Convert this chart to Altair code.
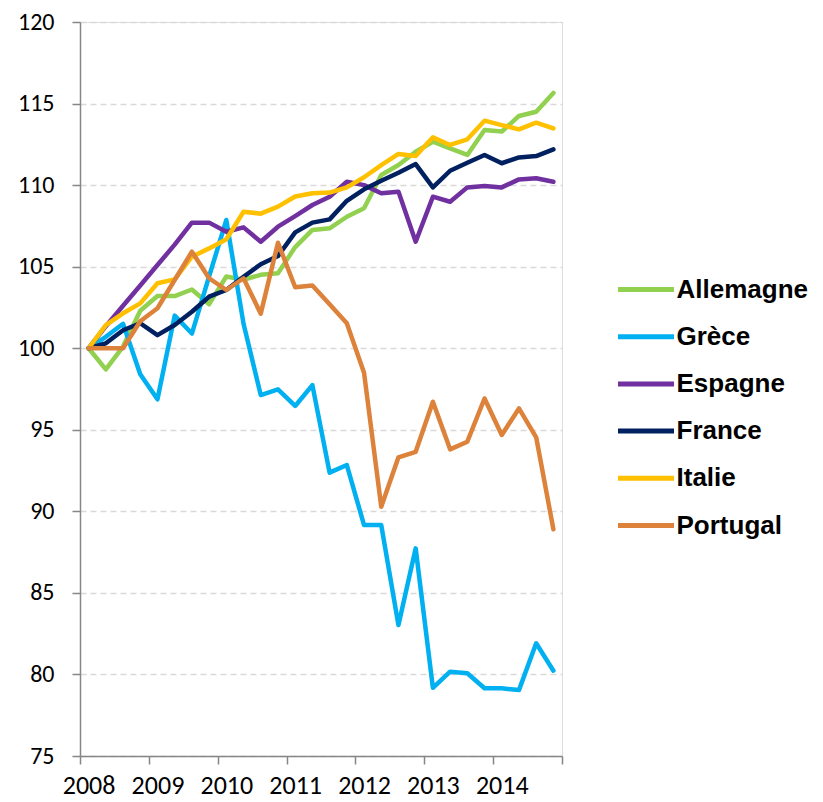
import altair as alt
import pandas as pd

years = ["2008", "2009", "2010", "2011", "2012", "2013", "2014"]
quarters = [f"{y}-T{q}" for y in years for q in range(1, 5)]

countries = ["Allemagne", "Grèce", "Espagne", "France", "Italie", "Portugal"]
colors = ["#92D050", "#00B0F0", "#7030A0", "#002060", "#FFC000", "#DC823A"]

allemagne = [100, 98.7, 100.1, 102.3, 103.2, 103.2, 103.6, 102.7, 104.4, 104.2, 104.5, 104.6,
             106.2, 107.25, 107.35, 108.06, 108.58, 110.62, 111.23, 112.05, 112.66, 112.25,
             111.85, 113.38, 113.28, 114.24, 114.5, 115.65]
grece = [100, 100.7, 101.5, 98.4, 96.87, 102.0, 100.9, 104.4, 107.86, 101.5, 97.13, 97.48,
         96.46, 97.74, 92.37, 92.84, 89.16, 89.16, 83.03, 87.73, 79.18, 80.17, 80.07, 79.15,
         79.15, 79.04, 81.91, 80.23]
espagne = [100, 101.35, 102.6, 103.85, 105.1, 106.35, 107.7, 107.7, 107.14, 107.41, 106.53,
           107.45, 108.1, 108.78, 109.29, 110.21, 110.0, 109.5, 109.6, 106.53, 109.29, 108.98,
           109.86, 109.94, 109.86, 110.35, 110.42, 110.21]
france = [100, 100.3, 101.1, 101.53, 100.8, 101.42, 102.24, 103.16, 103.57, 104.38, 105.15,
          105.65, 107.1, 107.7, 107.9, 109.04, 109.74, 110.27, 110.76, 111.29, 109.86, 110.88,
          111.37, 111.85, 111.34, 111.7, 111.78, 112.19]
italie = [100, 101.42, 102.14, 102.75, 103.98, 104.22, 105.61, 106.12, 106.68, 108.37, 108.25,
          108.68, 109.3, 109.5, 109.54, 109.86, 110.48, 111.23, 111.91, 111.78, 112.93, 112.46,
          112.81, 113.95, 113.68, 113.42, 113.83, 113.48]
portugal = [100, 100, 100, 101.65, 102.45, 104.18, 105.92, 104.29, 103.57, 104.29, 102.12,
            106.47, 103.74, 103.84, 102.69, 101.53, 98.5, 90.28, 93.31, 93.65, 96.72, 93.8,
            94.27, 96.92, 94.68, 96.31, 94.54, 88.9]

y_ticks = [75, 80, 85, 90, 95, 100, 105, 110, 115, 120]

series = [allemagne, grece, espagne, france, italie, portugal]
rows = []
for c, vals in zip(countries, series):
    for i, (q, v) in enumerate(zip(quarters, vals)):
        rows.append({"pays": c, "idx": i, "trimestre": q, "valeur": v})
df = pd.DataFrame(rows)

n = len(quarters)
x_tick_vals = [i * 4 - 0.5 for i in range(len(years) + 1)]
years_js = "[" + ",".join(f"'{y}'" for y in years) + "]"
label_expr = f"datum.value < {n - 1} ? {years_js}[round((datum.value + 0.5) / 4)] : ''"

W, H = 482, 734
band = W / n

chart = alt.Chart(df).mark_line(strokeWidth=4.5, strokeCap="round", strokeJoin="round").encode(
    x=alt.X("idx:Q",
            scale=alt.Scale(domain=[-0.5, n - 0.5], nice=False, zero=False),
            axis=alt.Axis(values=x_tick_vals, labelExpr=label_expr, title=None, grid=False,
                          tickSize=8, tickColor="#868686", tickWidth=1.5,
                          domainColor="#868686", domainWidth=1.5,
                          labelOffset=band / 2, labelFlush=False, labelOverlap=False,
                          labelFont="Carlito, Lato", labelFontSize=26, labelColor="#000000",
                          labelPadding=8)),
    y=alt.Y("valeur:Q",
            scale=alt.Scale(domain=[75, 120], nice=False, zero=False),
            axis=alt.Axis(values=y_ticks, title=None, grid=True, gridColor="#D9D9D9",
                          gridDash=[6, 4], gridWidth=1.3,
                          tickSize=8, tickColor="#868686", tickWidth=1.5,
                          domainColor="#868686", domainWidth=1.5,
                          labelFont="Carlito, Lato", labelFontSize=24, labelColor="#000000",
                          labelPadding=18)),
    color=alt.Color("pays:N",
                    scale=alt.Scale(domain=countries, range=colors),
                    legend=alt.Legend(title=None, orient="none", legendX=535.5, legendY=237,
                                      symbolType="stroke", symbolSize=3136, symbolStrokeWidth=5,
                                      labelOffset=0, rowPadding=3.2, padding=0,
                                      labelFont="Liberation Sans", labelFontWeight="bold",
                                      labelFontSize=26, labelColor="#000000",
                                      labelLimit=300)),
    detail="pays:N",
).properties(
    width=W, height=H,
    autosize=alt.AutoSizeParams(type="none"),
    padding={"left": 72, "top": 14, "right": 253, "bottom": 46},
).configure_view(stroke=None).configure(background="white")

chart.save("out.html", embed_options={"renderer": "svg", "actions": False})
